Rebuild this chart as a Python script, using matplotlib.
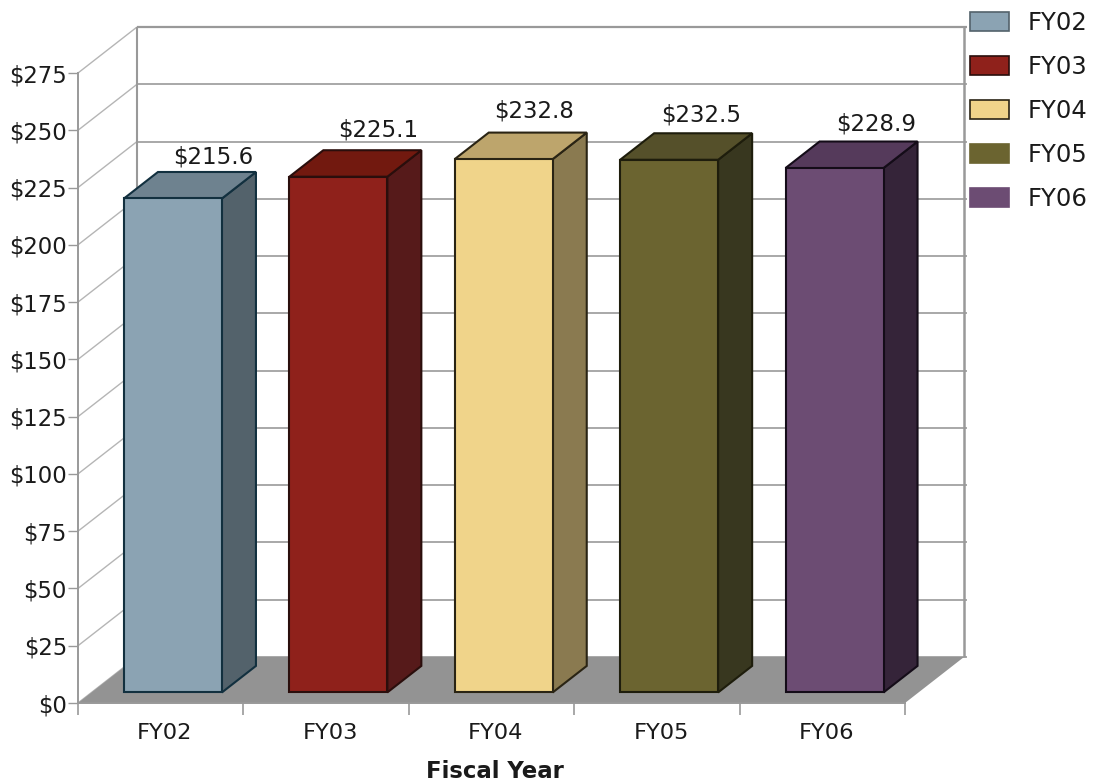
# Fiscal year totals as a 3D-look bar chart
import matplotlib
matplotlib.use("Agg")
import matplotlib.pyplot as plt
from matplotlib.patches import Patch, Polygon

years = ["FY02", "FY03", "FY04", "FY05", "FY06"]
values = [215.6, 225.1, 232.8, 232.5, 228.9]
y_ticks = [0, 25, 50, 75, 100, 125, 150, 175, 200, 225, 250, 275]

front_colors = ["#8BA3B3", "#8F211B", "#F0D48A", "#6B6430", "#6C4C73"]
side_colors = ["#53626B", "#561A1A", "#8A7A50", "#38371F", "#352439"]
top_colors = ["#6E828F", "#72190F", "#BDA56C", "#55502A", "#553A5B"]
edge_colors = ["#12303F", "#2A0E0C", "#2A2414", "#1E1D0C", "#140C18"]

# label offsets from the back top edge of each bar, in points
label_dx = [13, 13, 6, 7, 14]
label_dy = [17.5, 21, 22, 19.5, 19.5]

GRID = "#999999"
FLOOR = "#939393"

fig = plt.figure(figsize=(10.93, 7.83), dpi=100)
W, H = 1093, 783
ax = fig.add_axes([78 / W, 1 - 703 / H, 827 / W, 630 / H])
ax.set_xlim(0, 5)
ax.set_ylim(0, 275)

# depth of the box, in data units
DX = 59 / (827 / 5)
DY = 46 / (630 / 275)


def proj(x, y, z):
    return (x + z * DX, y + z * DY)


def face(points, **kw):
    ax.add_patch(Polygon([proj(*p) for p in points], closed=True, clip_on=False, **kw))


def line(p0, p1, **kw):
    a, b = proj(*p0), proj(*p1)
    ax.plot([a[0], b[0]], [a[1], b[1]], clip_on=False, solid_capstyle="butt", **kw)


# walls: side lines, back gridlines and frame
for t in y_ticks:
    line((0, t, 0), (0, t, 1), color="#B5B5B5", lw=1.0, zorder=1)
    line((0, t, 1), (5.02, t, 1), color=GRID, lw=1.2 if t < 275 else 1.6, zorder=1)
line((0, 0, 1), (0, 275, 1), color=GRID, lw=1.5, zorder=1)
line((5, 0, 1), (5, 275, 1), color=GRID, lw=1.8, zorder=1)
face([(0, 0, 0), (5, 0, 0), (5, 0, 1), (0, 0, 1)], facecolor=FLOOR, edgecolor="none", zorder=2)

# bars
bar_w = 98 / (827 / 5)
z0, z1 = 0.23, 0.23 + 34 / 59
for i, v in enumerate(values):
    x0 = i + 0.5 - 0.008 - bar_w / 2
    x1 = x0 + bar_w
    style = dict(edgecolor=edge_colors[i], lw=1.5, joinstyle="miter", zorder=3)
    face([(x1, 0, z0), (x1, 0, z1), (x1, v, z1), (x1, v, z0)], facecolor=side_colors[i], **style)
    face([(x0, v, z0), (x1, v, z0), (x1, v, z1), (x0, v, z1)], facecolor=top_colors[i], **style)
    face([(x0, 0, z0), (x1, 0, z0), (x1, v, z0), (x0, v, z0)], facecolor=front_colors[i], **style)
    ax.annotate(f"${v}", xy=proj((x0 + x1) / 2, v, z1 - 0.2), xytext=(label_dx[i], label_dy[i]),
                textcoords="offset points", ha="center", va="center", fontsize=16.5,
                color="#1a1a1a", annotation_clip=False, zorder=5)

# axes, ticks and labels
for s in ["top", "right"]:
    ax.spines[s].set_visible(False)
for s in ["left", "bottom"]:
    ax.spines[s].set_color(GRID)
    ax.spines[s].set_linewidth(1.4)
    ax.spines[s].set_zorder(2.5)
ax.patch.set_alpha(0)

ax.set_yticks(y_ticks)
ax.set_yticklabels([f"${t}" for t in y_ticks], fontsize=16.4, color="#1a1a1a", va="center_baseline")
ax.tick_params(axis="y", length=7.5, width=1.0, color=GRID, pad=0.5)
ax.set_xticks(range(6))
ax.set_xticklabels([])
ax.tick_params(axis="x", which="major", length=8.5, width=1.2, color=GRID)
ax.set_xticks([i + 0.525 for i in range(5)], minor=True)
ax.set_xticklabels(years, minor=True, fontsize=16.2, color="#1a1a1a")
ax.tick_params(axis="x", which="minor", length=0, pad=14.5)

ax.set_xlabel("Fiscal Year", fontsize=16.4, fontweight="bold", color="#1a1a1a", va="center")
ax.xaxis.set_label_coords((495 - 78) / 827, -(771.5 - 703) / 630)

# legend in the top right corner
handles = [Patch(facecolor=c, edgecolor=e, lw=1.2) for c, e in zip(front_colors, edge_colors)]
handles[0].set_edgecolor("#53626B")
handles[3].set_edgecolor(front_colors[3])
handles[4].set_edgecolor(front_colors[4])
fig.legend(handles, years, loc="upper left", bbox_to_anchor=(970 / W, 1 - 11 / H),
           bbox_transform=fig.transFigure, frameon=False, fontsize=17.5, borderpad=0,
           borderaxespad=0, handlelength=1.6, handleheight=0.82, handletextpad=0.78,
           labelspacing=0.825, labelcolor="#1a1a1a")

fig.savefig("out.png", dpi=100)
